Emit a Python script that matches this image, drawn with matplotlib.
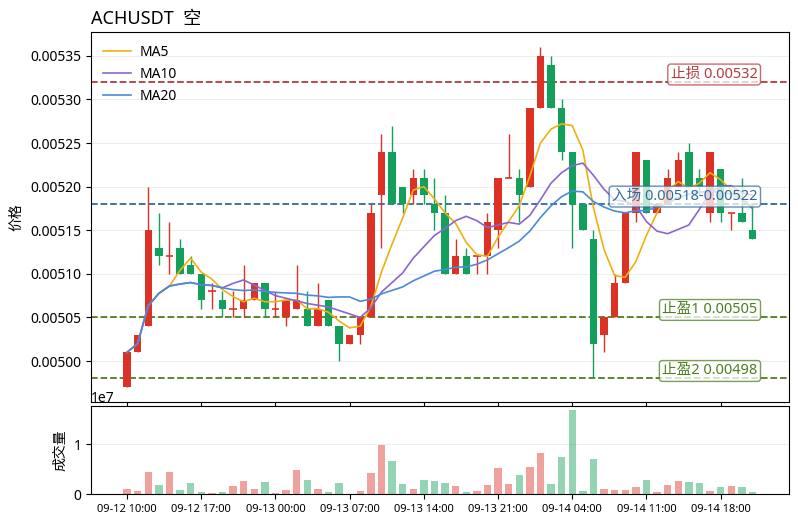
import numpy as np
import matplotlib
matplotlib.use('Agg')
import matplotlib.pyplot as plt

plt.rcParams['font.family'] = ['Noto Sans', 'Noto Sans CJK SC', 'DejaVu Sans']
plt.rcParams['axes.unicode_minus'] = False

# hourly candles, 09-12 10:00 .. 09-14 21:00
opens = [0.00497, 0.00501, 0.00504, 0.00513, 0.00512, 0.00513, 0.00511, 0.00510, 0.00508, 0.00507,
         0.00506, 0.00506, 0.00507, 0.00509, 0.00506, 0.00505, 0.00506, 0.00506, 0.00504, 0.00507,
         0.00504, 0.00502, 0.00503, 0.00505, 0.00519, 0.00524, 0.00520, 0.00519, 0.00521, 0.00518,
         0.00517, 0.00510, 0.00512, 0.00512, 0.00512, 0.00515, 0.00521, 0.00521, 0.00520, 0.00529,
         0.00534, 0.00529, 0.00524, 0.00518, 0.00514, 0.00503, 0.00505, 0.00509, 0.00517, 0.00523,
         0.00517, 0.00518, 0.00520, 0.00524, 0.00521, 0.00517, 0.00522, 0.00517, 0.00517, 0.00515]
highs = [0.00501, 0.00503, 0.00520, 0.00517, 0.00516, 0.00514, 0.00512, 0.00510, 0.00509, 0.00508,
         0.00508, 0.00511, 0.00509, 0.00509, 0.00508, 0.00507, 0.00511, 0.00508, 0.00509, 0.00507,
         0.00504, 0.00503, 0.00505, 0.00518, 0.00526, 0.00527, 0.00520, 0.00522, 0.00522, 0.00521,
         0.00519, 0.00514, 0.00513, 0.00512, 0.00517, 0.00521, 0.00526, 0.00522, 0.00529, 0.00536,
         0.00535, 0.00530, 0.00524, 0.00518, 0.00515, 0.00505, 0.00510, 0.00517, 0.00524, 0.00523,
         0.00518, 0.00522, 0.00524, 0.00525, 0.00522, 0.00524, 0.00522, 0.00517, 0.00521, 0.00518]
lows = [0.00497, 0.00501, 0.00504, 0.00511, 0.00510, 0.00510, 0.00510, 0.00506, 0.00506, 0.00505,
        0.00505, 0.00505, 0.00507, 0.00505, 0.00505, 0.00504, 0.00506, 0.00504, 0.00504, 0.00504,
        0.00500, 0.00502, 0.00502, 0.00505, 0.00513, 0.00518, 0.00517, 0.00518, 0.00518, 0.00515,
        0.00510, 0.00510, 0.00510, 0.00510, 0.00510, 0.00513, 0.00521, 0.00516, 0.00520, 0.00529,
        0.00529, 0.00523, 0.00513, 0.00515, 0.00498, 0.00501, 0.00505, 0.00509, 0.00516, 0.00517,
        0.00517, 0.00518, 0.00520, 0.00520, 0.00519, 0.00516, 0.00516, 0.00515, 0.00516, 0.00514]
closes = [0.00501, 0.00503, 0.00515, 0.00512, 0.00512, 0.00510, 0.00510, 0.00507, 0.00508, 0.00506,
          0.00506, 0.00507, 0.00509, 0.00506, 0.00506, 0.00507, 0.00507, 0.00504, 0.00506, 0.00504,
          0.00502, 0.00503, 0.00505, 0.00517, 0.00524, 0.00518, 0.00518, 0.00521, 0.00519, 0.00517,
          0.00510, 0.00512, 0.00510, 0.00512, 0.00516, 0.00521, 0.00521, 0.00519, 0.00529, 0.00535,
          0.00529, 0.00524, 0.00518, 0.00515, 0.00502, 0.00505, 0.00509, 0.00517, 0.00524, 0.00517,
          0.00518, 0.00521, 0.00523, 0.00520, 0.00520, 0.00524, 0.00517, 0.00517, 0.00516, 0.00514]
volumes = [0.10, 0.07, 0.44, 0.18, 0.44, 0.08, 0.22, 0.04, 0.02, 0.04,
           0.16, 0.26, 0.10, 0.24, 0.02, 0.08, 0.48, 0.28, 0.10, 0.04,
           0.22, 0.005, 0.06, 0.42, 0.98, 0.66, 0.20, 0.10, 0.28, 0.26,
           0.22, 0.16, 0.04, 0.06, 0.18, 0.52, 0.20, 0.38, 0.54, 0.82,
           0.20, 0.74, 1.68, 0.06, 0.70, 0.10, 0.08, 0.08, 0.14, 0.28,
           0.04, 0.18, 0.26, 0.24, 0.22, 0.06, 0.14, 0.16, 0.14, 0.04]
volumes = [v * 1e7 for v in volumes]

tick_pos = [0, 7, 14, 21, 28, 35, 42, 49, 56]
tick_labels = ['09-12 10:00', '09-12 17:00', '09-13 00:00', '09-13 07:00', '09-13 14:00',
               '09-13 21:00', '09-14 04:00', '09-14 11:00', '09-14 18:00']

levels = [
    (0.00532, '止损 0.00532', '#b23b3b'),
    (0.00518, '入场 0.00518-0.00522', '#2f6a9e'),
    (0.00505, '止盈1 0.00505', '#4f7d22'),
    (0.00498, '止盈2 0.00498', '#4f7d22'),
]

UP = '#dc3226'
DOWN = '#12a05c'


def moving_avg(vals, n):
    out = []
    for i in range(len(vals)):
        w = vals[max(0, i - n + 1):i + 1]
        out.append(sum(w) / len(w))
    return out


def plot_chart():
    o = np.array(opens)
    h = np.array(highs)
    l = np.array(lows)
    c = np.array(closes)
    x = np.arange(len(o))
    up = c >= o
    colors = np.where(up, UP, DOWN)

    fig = plt.figure(figsize=(7.98, 5.26), dpi=100)
    ax = fig.add_axes([0.114, 0.2357, 0.8747, 0.7029])
    axv = fig.add_axes([0.114, 0.0608, 0.8747, 0.1673], sharex=ax)

    # candles
    ax.vlines(x, l, h, colors=colors, linewidth=1.0, zorder=2)
    body = np.abs(c - o)
    solid = body > 0
    ax.bar(x[solid], body[solid], bottom=np.minimum(o, c)[solid], width=0.7,
           color=colors[solid], zorder=3)
    doji = ~solid
    ax.hlines(c[doji], x[doji] - 0.35, x[doji] + 0.35, colors=colors[doji], linewidth=1.2, zorder=3)

    ax.plot(x, moving_avg(closes, 5), color='#f0b010', lw=1.2, label='MA5', zorder=4)
    ax.plot(x, moving_avg(closes, 10), color='#8a66d0', lw=1.2, label='MA10', zorder=4)
    ax.plot(x, moving_avg(closes, 20), color='#4a8ad8', lw=1.2, label='MA20', zorder=4)

    for price, text, col in levels:
        ax.axhline(price, color=col, linestyle='--', linewidth=1.3, zorder=1)
        ax.text(0.955, price, text, transform=ax.get_yaxis_transform(), ha='right', va='bottom',
                fontsize=10.5, color=col, zorder=5,
                bbox=dict(boxstyle='round,pad=0.2', facecolor='white', alpha=0.75, edgecolor=col))

    ax.set_xlim(-3.4, 62.45)
    ax.set_ylim(0.004953, 0.005377)
    ax.set_yticks([0.00500, 0.00505, 0.00510, 0.00515, 0.00520, 0.00525, 0.00530, 0.00535])
    ax.set_yticklabels(['0.00500', '0.00505', '0.00510', '0.00515', '0.00520', '0.00525', '0.00530', '0.00535'])
    ax.tick_params(axis='y', labelsize=10)
    ax.tick_params(axis='x', labelbottom=False)
    ax.grid(axis='y', color='#eeeeee', linewidth=0.8)
    ax.set_axisbelow(True)
    ax.set_ylabel('价格', fontsize=10)
    ax.set_title('ACHUSDT  空', loc='left', fontsize=13)
    ax.legend(loc='upper left', frameon=False, fontsize=10, handletextpad=0.6)

    # volume
    axv.bar(x, volumes, width=0.7, color=colors, alpha=0.45)
    axv.set_xticks(tick_pos)
    axv.set_xticklabels(tick_labels, fontsize=8)
    axv.set_yticks([0, 1e7])
    axv.tick_params(axis='y', labelsize=10)
    axv.grid(axis='y', color='#eeeeee', linewidth=0.8)
    axv.set_axisbelow(True)
    axv.set_ylabel('成交量', fontsize=10)

    fig.savefig('out.png', dpi=100)


if __name__ == '__main__':
    plot_chart()
